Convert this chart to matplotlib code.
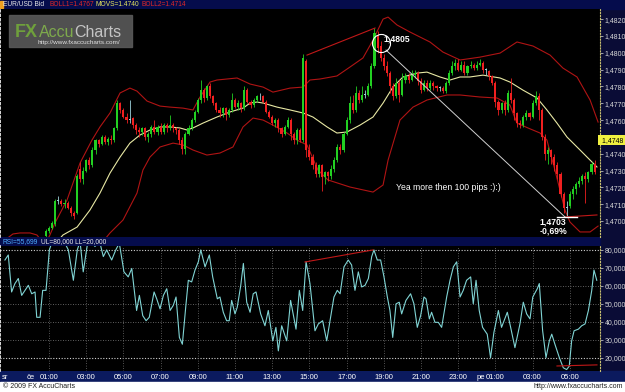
import matplotlib
matplotlib.use("Agg")
import matplotlib.pyplot as plt
import numpy as np
from matplotlib.patches import Rectangle
from matplotlib.transforms import blended_transform_factory

plt.rcParams['font.family'] = ['Liberation Sans', 'DejaVu Sans']

### EUR/USD 10 MIN CANDLES, BOLLINGER (20) + RSI ###
# time axis: hours since Thursday 00:00, prices stored as pips above BASE
W, H = 625, 392
BASE = 1.4700
T_FIRST = 50 / 60.0        # first candle 00:50
STEP = 1 / 6.0             # 10 minute bars

opens = [-9, -6, -4, -2, 12, 12, 10, 11, 8, 5,
         5, 31, 25, 30, 36, 33, 42, 48, 46, 50,
         47, 49, 48, 55, 70, 66, 62, 60, 61, 57,
         54, 53, 55, 50, 52, 56, 53, 56, 53, 57,
         55, 57, 55, 54, 48, 43, 52, 55, 60, 65,
         72, 78, 73, 80, 74, 70, 66, 64, 67, 63,
         66, 72, 68, 70, 67, 78, 71, 69, 72, 74,
         74, 71, 65, 62, 58, 60, 55, 52, 56, 60,
         52, 48, 54, 48, 95, 42, 38, 33, 28, 33,
         26, 29, 27, 31, 36, 44, 42, 52, 60, 70,
         66, 76, 72, 75, 75, 80, 92, 110, 104, 97,
         92, 88, 80, 74, 82, 75, 84, 86, 84, 87,
         88, 83, 78, 82, 79, 82, 80, 79, 79, 77,
         82, 88, 92, 94, 90, 93, 88, 92, 93, 91,
         93, 94, 90, 89, 86, 82, 71, 66, 70, 66,
         76, 72, 64, 58, 57, 62, 64, 62, 70, 74,
         66, 50, 40, 42, 38, 33, 28, 16, 8, 9,
         16, 19, 22, 24, 27, 25, 29, 34]
highs = [-5, -3, 0, 13, 15, 13, 13, 12, 9, 6,
         28, 35, 32, 37, 38, 44, 49, 49, 51, 51,
         50, 51, 56, 72, 71, 67, 64, 72, 62, 58,
         56, 56, 56, 53, 57, 60, 57, 58, 58, 58,
         63, 58, 56, 55, 50, 53, 57, 61, 66, 73,
         84, 79, 81, 82, 75, 71, 68, 68, 68, 67,
         76, 73, 72, 71, 80, 79, 72, 73, 75, 76,
         75, 72, 66, 63, 61, 61, 56, 57, 62, 61,
         53, 55, 55, 99, 96, 46, 40, 35, 34, 34,
         30, 30, 33, 38, 46, 46, 53, 62, 74, 75,
         80, 78, 80, 78, 82, 94, 115, 113, 107, 99,
         95, 89, 82, 85, 84, 88, 88, 88, 90, 90,
         89, 85, 84, 84, 84, 83, 81, 80, 80, 83,
         90, 95, 96, 96, 95, 95, 93, 95, 94, 95,
         96, 95, 91, 90, 87, 83, 72, 71, 72, 78,
         85, 73, 65, 60, 63, 66, 65, 72, 77, 76,
         67, 52, 44, 43, 40, 35, 29, 17, 12, 18,
         21, 23, 26, 28, 29, 30, 35, 36]
lows = [-10, -7, -5, -3, 10, 9, 8, 7, 3, 1,
        4, 23, 22, 29, 31, 32, 40, 44, 45, 46,
        45, 46, 47, 54, 64, 61, 58, 58, 55, 52,
        50, 51, 48, 47, 50, 52, 51, 52, 52, 53,
        54, 53, 52, 46, 40, 40, 51, 54, 59, 64,
        70, 71, 72, 73, 69, 65, 62, 62, 60, 62,
        65, 67, 66, 65, 66, 70, 67, 68, 71, 72,
        70, 64, 61, 57, 56, 53, 50, 51, 55, 48,
        46, 46, 47, 47, 38, 36, 31, 26, 26, 18,
        22, 24, 25, 29, 35, 40, 41, 51, 58, 64,
        65, 70, 71, 73, 74, 79, 91, 100, 95, 90,
        86, 76, 72, 73, 71, 74, 82, 82, 83, 85,
        81, 76, 77, 77, 78, 78, 77, 77, 76, 76,
        81, 87, 90, 89, 89, 87, 87, 91, 90, 90,
        92, 88, 87, 84, 81, 68, 63, 64, 63, 65,
        70, 60, 56, 55, 56, 60, 60, 61, 69, 60,
        48, 36, 34, 34, 30, 25, 14, 5, 3, 8,
        13, 16, 20, 22, 11, 23, 28, 28]
closes = [-6, -4, -1, 12, 12.4, 10, 11, 8, 5, 3,
          27, 25, 30, 36, 33, 42, 48, 46, 50, 47,
          49, 48, 55, 70, 66, 62, 60, 60.4, 57, 54,
          53, 55, 50, 52, 56, 53, 56, 53, 57, 55,
          57, 55, 54, 48, 43, 52, 55, 60, 65, 72,
          78, 73, 80, 74, 70, 66, 64, 67, 63, 66,
          72, 68, 70, 67, 78, 71, 69, 72, 74, 74.3,
          71, 65, 62, 58, 60, 55, 52, 56, 60, 52,
          48, 54, 48, 97, 42, 38, 33, 28, 33, 26,
          29, 27, 31, 36, 44, 42, 52, 60, 70, 66,
          76, 72, 75, 75.4, 80, 92, 112, 103, 97, 92,
          88, 80, 74, 82, 75, 84, 86, 84, 87, 88,
          83, 78, 82, 79, 82, 80, 79, 79.3, 77, 82,
          88, 92, 94, 90, 93, 88, 92, 93, 91, 93,
          94, 90, 89.7, 86, 82, 71, 66, 70, 66, 76,
          72, 64, 58, 57, 62, 64, 62, 70, 74, 66,
          50, 40, 42, 38, 33, 28, 16, 8, 8.3, 16,
          19, 22, 24, 27, 25, 29, 34, 29]

# bollinger bands / moving average (hours, pips)
upper_t = [-1.37, -0.94, -0.56, -0.02, 0.35, 0.78, 1.05, 1.32, 1.97, 2.67, 3.31, 3.74, 4.28, 4.82,
           5.35, 5.73, 6.27, 6.97, 7.51, 8.20, 8.74, 9.12, 9.66, 10.03, 11.11, 11.81, 12.51,
           13.04, 13.96, 14.66, 15.03, 15.57, 16.48, 17.18, 17.88, 18.42, 18.96, 19.23, 19.71,
           20.41, 21.48, 22.18, 23.10, 24.17, 25.25, 26.16, 27.02, 27.94, 28.63, 29.39, 30.09, 30.52]
upper_p = [-11.3, -7.7, -7.1, -7.1, -8.3, -14.3, -8.3, -1.2, 12.5, 34.5, 48.1, 55.9, 64.2, 76.1,
           79.0, 77.2, 71.3, 68.3, 67.7, 67.1, 66.0, 73.7, 82.6, 83.8, 85.0, 81.4, 79.6,
           76.6, 79.0, 79.6, 83.8, 84.4, 86.2, 91.5, 96.9, 107.5, 120.0, 121.2, 116.5,
           112.3, 106.4, 100.4, 95.7, 97.4, 99.8, 106.4, 104.0, 98.6, 90.9, 85.6, 71.9, 58.8]
lower_t = [3.74, 4.28, 4.98, 5.73, 6.05, 6.43, 6.97, 7.67, 8.20, 8.74, 9.49, 10.19, 10.89, 11.43,
           11.97, 12.51, 13.04, 13.80, 14.33, 14.87, 15.46, 16.00, 17.18, 18.42, 18.96, 19.23,
           19.87, 20.57, 21.32, 22.40, 23.10, 24.17, 25.09, 25.78, 26.16, 26.75, 27.40, 27.77,
           28.20, 28.47, 28.74, 29.01, 29.55, 30.09, 30.52]
lower_p = [-14.3, -7.1, 0.6, 16.6, 30.3, 38.0, 44.0, 46.3, 45.2, 42.2, 39.2, 40.4, 44.0, 55.9,
           61.2, 60.0, 57.0, 52.3, 48.1, 45.2, 30.3, 24.4, 20.2, 17.2, 21.4, 36.2,
           60.0, 67.7, 71.9, 74.9, 74.9, 73.7, 73.1, 68.9, 58.2, 55.3, 52.3, 48.1,
           30.3, 18.4, 6.5, -0.6, -6.5, -6.5, -3.0]
movs_t = [1.32, 1.75, 2.51, 3.20, 3.74, 4.28, 4.82, 5.35, 5.89, 6.43, 6.97, 7.51, 8.04, 8.42,
          8.74, 9.28, 10.03, 10.73, 11.43, 11.81, 12.18, 12.51, 13.26, 13.96, 14.66, 15.19,
          15.95, 16.48, 17.02, 17.72, 18.42, 18.96, 19.49, 20.03, 20.78, 21.32, 22.02, 22.56,
          23.10, 23.63, 24.33, 25.25, 25.78, 26.48, 27.24, 27.77, 28.31, 28.85, 29.55, 30.09, 30.46]
movs_p = [-14.0, -8.3, -3.6, 6.5, 16.6, 28.5, 38.0, 46.3, 51.1, 54.1, 55.9, 55.9, 55.3, 54.1,
          55.3, 58.2, 61.8, 64.8, 67.1, 70.1, 70.7, 70.1, 67.7, 66.0, 64.2, 61.8,
          55.9, 52.3, 52.9, 57.0, 61.8, 70.1, 79.6, 85.6, 87.9, 88.5, 85.6, 83.8,
          85.6, 85.6, 86.7, 85.0, 82.6, 77.8, 73.1, 66.0, 58.2, 49.9, 42.2, 36.2, 32.1]

# RSI
rsi_t = [-1.37, -1.19, -1.01, -0.83, -0.65, -0.47, -0.29, -0.11, 0.07, 0.25, 0.34, 0.52, 0.66, 0.84,
         1.02, 1.14, 1.32, 1.59, 1.81, 2.04, 2.31, 2.52, 2.67, 2.84, 3.06, 3.24, 3.47, 3.70,
         3.92, 4.10, 4.37, 4.59, 4.78, 5.03, 5.26, 5.45, 5.71, 5.86, 6.04, 6.22, 6.39, 6.65,
         6.79, 6.97, 7.15, 7.33, 7.51, 7.68, 7.83, 8.01, 8.17, 8.35, 8.49, 8.67, 8.85, 9.03,
         9.16, 9.39, 9.62, 9.80, 10.05, 10.19, 10.37, 10.55, 10.69, 10.82, 11.00, 11.12, 11.31,
         11.45, 11.63, 11.81, 11.98, 12.13, 12.38, 12.61, 12.79, 13.03, 13.20, 13.33, 13.51,
         13.78, 13.99, 14.28, 14.46, 14.64, 14.82, 15.03, 15.30, 15.48, 15.71, 15.93, 16.14,
         16.32, 16.50, 16.65, 16.86, 17.09, 17.27, 17.45, 17.63, 17.81, 17.99, 18.17, 18.35,
         18.47, 18.65, 18.83, 19.01, 19.19, 19.33, 19.48, 19.66, 19.83, 19.96, 20.19, 20.44,
         20.62, 20.80, 20.98, 21.16, 21.27, 21.45, 21.57, 21.75, 21.93, 22.11, 22.38, 22.56,
         22.74, 22.92, 23.10, 23.27, 23.45, 23.67, 23.81, 23.96, 24.13, 24.31, 24.56, 24.74,
         24.92, 25.16, 25.33, 25.64, 25.82, 26.05, 26.32, 26.50, 26.68, 26.86, 27.01, 27.25,
         27.36, 27.54, 27.72, 27.90, 28.03, 28.20, 28.44, 28.65, 28.83, 28.97, 29.10, 29.23,
         29.46, 29.64, 29.82, 30.00, 30.18, 30.30, 30.45]
rsi_v = [74.4, 77.2, 56.6, 61.3, 64.1, 54.7, 57.5, 60.3, 55.6, 56.6, 42.5, 42.5, 57.5, 57.5,
         80.0, 83.8, 87.5, 86.6, 84.7, 80.0, 63.1, 80.0, 84.7, 67.8, 82.8, 86.6, 81.9, 85.6,
         76.3, 80.0, 74.4, 80.0, 83.8, 67.8, 65.0, 69.7, 46.3, 54.7, 43.4, 40.6, 42.5, 56.6,
         52.8, 47.2, 54.7, 58.4, 46.3, 49.1, 53.8, 31.3, 27.5, 48.1, 63.1, 62.2, 68.8, 73.4,
         80.0, 70.6, 77.2, 65.0, 52.8, 53.8, 45.3, 40.6, 40.6, 51.9, 44.4, 48.1, 60.3,
         72.5, 50.9, 45.3, 55.6, 56.6, 44.4, 37.8, 46.3, 29.4, 36.9, 23.8, 37.8,
         29.4, 51.9, 35.9, 57.5, 46.3, 73.4, 61.3, 35.0, 38.8, 40.6, 29.4, 42.5,
         53.8, 57.5, 55.6, 70.6, 74.4, 71.6, 57.5, 67.8, 59.4, 60.3, 64.1, 76.3,
         80.0, 74.4, 74.4, 65.0, 53.8, 46.3, 31.3, 50.0, 50.9, 44.4, 51.9, 55.6,
         50.0, 36.9, 43.4, 53.8, 52.8, 41.6, 45.3, 39.7, 39.7, 36.9, 53.8, 63.1,
         70.6, 73.4, 53.8, 57.5, 63.1, 65.0, 50.0, 63.1, 46.3, 36.9, 33.1, 20.0,
         34.1, 46.3, 36.9, 45.3, 36.9, 25.6, 38.8, 50.9, 44.4, 41.6, 53.8, 58.4,
         61.3, 35.0, 20.0, 29.4, 33.1, 27.5, 20.0, 14.4, 13.4, 15.3, 29.4, 35.0,
         35.9, 37.8, 38.8, 46.3, 57.5, 68.8, 63.1]

rsi_ticks = [20, 30, 40, 50, 60, 70, 80]
price_ticks = [1.4700, 1.4710, 1.4720, 1.4730, 1.4740, 1.4750, 1.4760, 1.4770,
               1.4780, 1.4790, 1.4800, 1.4810, 1.4820]
time_t = [-1.37, 0, 1, 3, 5, 7, 9, 11, 13, 15, 17, 19, 21, 23, 24.2, 25, 27, 29]
time_lab = ["sr", "če", "01:00", "03:00", "05:00", "07:00", "09:00", "11:00", "13:00", "15:00",
            "17:00", "19:00", "21:00", "23:00", "pe", "01:00", "03:00", "05:00"]

def price(p):
    return BASE + np.asarray(p, dtype=float) / 1e4

def box(x0, y0, x1, y1):
    # pixel box -> figure fraction
    return [x0 / W, 1 - y1 / H, (x1 - x0) / W, (y1 - y0) / H]

def fig_rect(b, color, z=-1, alpha=1.0):
    x, y, w, h = box(*b)
    fig.patches.append(Rectangle((x, y), w, h, transform=fig.transFigure, color=color,
                                 alpha=alpha, zorder=z))

NAVY = '#050c4c'
fig = plt.figure(figsize=(W / 100, H / 100), dpi=100, facecolor='#0a0c36')

# bars / footer (behind the axes)
fig_rect((0, 0, 625, 9), NAVY)
fig_rect((0, 237, 600, 246), NAVY)
fig_rect((0, 371, 625, 382), '#0b1a5e')
fig_rect((0, 382, 625, 392), 'white')
fig_rect((0, 1, 3, 8), '#f0a020')

xlim = (1 + (0 - 49) / 18.6, 1 + (600 - 49) / 18.6)

### MAIN PANEL ###
ax = fig.add_axes(box(0, 9, 600, 237), facecolor='black')
o = price(opens); hi = price(highs); lo = price(lows); c = price(closes)
t = T_FIRST + STEP * np.arange(len(opens))
col = np.where(np.abs(c - o) < 0.6e-4, '#9fd2dc', np.where(c > o, '#22d022', '#f02020'))
ax.vlines(t, lo, hi, colors=col, lw=0.6, zorder=3)
body = np.maximum(np.abs(c - o), 0.4e-4)
ax.bar(t, body, bottom=np.minimum(o, c), width=0.11, color=col, lw=0, zorder=4)

ax.plot(upper_t, price(upper_p), color='#b01414', lw=0.8, zorder=2)
ax.plot(lower_t, price(lower_p), color='#b01414', lw=0.8, zorder=2)
ax.plot(movs_t, price(movs_p), color='#e8e8a4', lw=0.8, zorder=2)

# annotations
ax.plot([14.87, 18.53], [1.47986, 1.48147], color='#c01818', lw=0.8, zorder=5)
ax.plot([28.74, 30.46], [1.47024, 1.47036], color='#c01818', lw=0.8, zorder=5)
ax.plot([19.12, 28.74], [1.48016, 1.47024], color='#d0d0d0', lw=0.7, zorder=5)
ax.plot([28.31, 29.39], [1.47024, 1.47024], color='white', lw=1.0, zorder=5)
ax.plot([18.85], [1.48058], 'o', ms=13, mfc='none', mec='white', mew=0.8, zorder=6)
ax.text(19.0, 1.48080, "1,4805", color='white', fontsize=6.2, fontweight='bold', va='center', zorder=7)
ax.text(28.1, 1.46994, "1,4703", color='white', fontsize=6.2, fontweight='bold', ha='center', va='center')
ax.text(28.1, 1.46941, "-0,69%", color='white', fontsize=6.2, fontweight='bold', ha='center', va='center')
ax.text(22.45, 1.47202, "Yea more then 100 pips :):)", color='white', fontsize=6.2, ha='center', va='center')

ax.set_xlim(*xlim)
ax.set_ylim(1.46905, 1.48260)
ax.set_xticks([])
ax.yaxis.tick_right()
ax.set_yticks(price_ticks)
ax.set_yticklabels([f"{v:.4f}".replace('.', ',') for v in price_ticks])
ax.tick_params(axis='y', colors='#d8d8d8', labelsize=5, length=2, width=0.5, pad=1.5)
for s in ['top', 'bottom']:
    ax.spines[s].set_visible(False)
ax.spines['right'].set_color('#c8c070')
ax.spines['right'].set_linestyle(':')
ax.spines['left'].set_color('white')
ax.spines['left'].set_linestyle(':')
ax.spines['left'].set_linewidth(1.2)

# current price flag, covers the 1,4750 label like in the original
tr = blended_transform_factory(ax.transAxes, ax.transData)
ax.text(1.0, 1.4748, " 1,4748 ", transform=tr, fontsize=5, color='black', va='center', ha='left',
        bbox=dict(boxstyle='square,pad=0.25', fc='#f0f040', ec='none'), zorder=8, clip_on=False)

# logo
fig_rect((9, 15, 132, 47), '#585858', z=3, alpha=0.92)
fig.text(15 / W, 1 - 37 / H, "FX", color='#6fa03c', fontsize=13, fontweight='bold', zorder=4)
fig.text(39 / W, 1 - 37 / H, "Accu", color='#7eaa4c', fontsize=11.5, zorder=4)
fig.text(74 / W, 1 - 37 / H, "Charts", color='#c4c4c4', fontsize=11.5, zorder=4)
fig.text(37 / W, 1 - 44 / H, "http://www.fxaccucharts.com/", color='#e0e0e0', fontsize=4.6, zorder=4)

# header texts
hy = 1 - 5 / H
fig.text(3 / W, hy, "EUR/USD Bid", color='#e8e8e8', fontsize=4.8, va='center')
fig.text(49 / W, hy, "BOLL1=1.4767", color='#e02828', fontsize=4.8, va='center')
fig.text(96 / W, hy, "MOVS=1.4740", color='#e8e860', fontsize=4.8, va='center')
fig.text(141 / W, hy, "BOLL2=1.4714", color='#e02828', fontsize=4.8, va='center')
ry = 1 - 242 / H
fig.text(3 / W, ry, "RSI=55,699", color='#50b0ff', fontsize=4.8, va='center')
fig.text(41 / W, ry, "UL=80,000 LL=20,000", color='#e8e8e8', fontsize=4.8, va='center')

### RSI PANEL ###
rx = fig.add_axes(box(0, 246, 600, 371), facecolor='black')
for v in [30, 40, 50, 60, 70]:
    rx.axhline(v, color='#808080', lw=0.6, ls=(0, (1, 2)), zorder=1)
for v in [20, 80]:
    rx.axhline(v, color='#d0d0d0', lw=0.8, ls=(0, (1, 1.5)), zorder=1)
for tt in range(1, 31, 2):
    rx.axvline(tt, color='#707070', lw=0.6, ls=(0, (1, 2)), zorder=1)
rx.plot(rsi_t, rsi_v, color='#80d4d4', lw=0.8, zorder=3)
rx.plot([14.76, 18.42], [73.3, 80.0], color='#c01818', lw=0.8, zorder=4)
rx.plot([28.31, 30.46], [15.4, 16.0], color='#c01818', lw=0.8, zorder=4)
rx.set_xlim(*xlim)
rx.set_ylim(12.6, 82.2)
rx.yaxis.tick_right()
rx.set_yticks(rsi_ticks)
rx.set_yticklabels([f"{v},000" for v in rsi_ticks])
rx.tick_params(axis='y', colors='#d8d8d8', labelsize=5, length=2, width=0.5, pad=1.5)
rx.set_xticks(time_t)
rx.set_xticklabels(time_lab)
rx.tick_params(axis='x', colors='white', labelsize=5.5, length=0, pad=2)
for s in ['top', 'bottom']:
    rx.spines[s].set_visible(False)
rx.spines['right'].set_color('#c8c070')
rx.spines['right'].set_linestyle(':')
rx.spines['left'].set_color('white')
rx.spines['left'].set_linestyle(':')
rx.spines['left'].set_linewidth(1.2)

# footer
fig.text(3 / W, 1 - 387 / H, "© 2009 FX AccuCharts", color='#202020', fontsize=5, va='center')
fig.text(623 / W, 1 - 387 / H, "http://www.fxaccucharts.com", color='#202020', fontsize=5,
         va='center', ha='right')

fig.savefig("out.png", dpi=100, facecolor=fig.get_facecolor())
